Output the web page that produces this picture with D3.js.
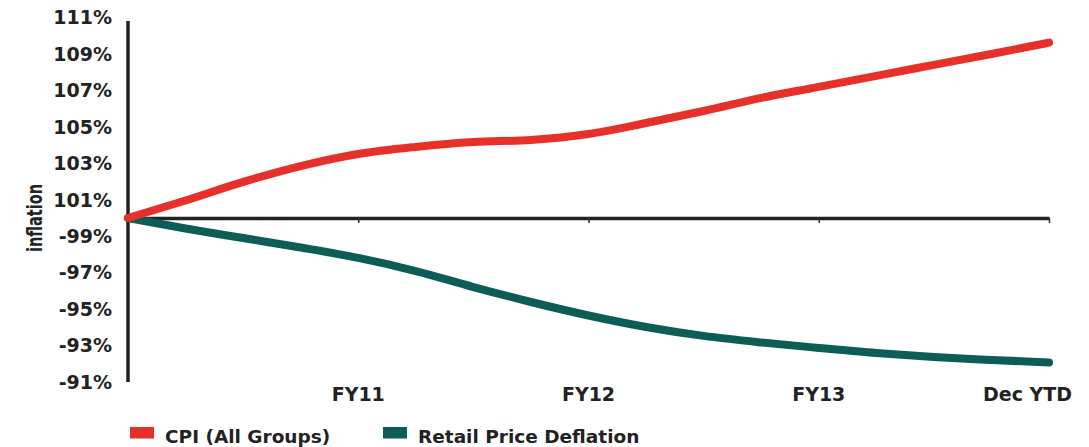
<!DOCTYPE html>
<html>
<head>
<meta charset="utf-8">
<script src="https://cdn.jsdelivr.net/npm/d3@7"></script>
<style>
  html, body { margin: 0; padding: 0; background: #ffffff; }
  svg { display: block; }
  text { font-family: "DejaVu Sans", "Liberation Sans", sans-serif; font-weight: bold; fill: #222222; }
</style>
</head>
<body>
<svg id="chart" width="1089" height="447"></svg>
<script>
// Quarterly index steps (0 = base period); labelled period ends every 4 quarters
const quarters = d3.range(0, 17);
const periodTicks = [4, 8, 12, 16];
const periodLabels = ["FY11", "FY12", "FY13", "Dec YTD"];

// Cumulative index values, base = 100
const cpiAllGroups = [100, 100.96, 101.98, 102.85, 103.51, 103.90, 104.17, 104.28, 104.61,
                      105.21, 105.87, 106.59, 107.19, 107.80, 108.40, 109.00, 109.62];
const retailPriceDeflation = [100, 99.42, 98.90, 98.38, 97.81, 97.09, 96.21, 95.39, 94.65,
                              94.02, 93.53, 93.17, 92.87, 92.59, 92.37, 92.21, 92.07];

// Vertical tick values and their printed labels (deflation side shown with a minus sign)
const yTickValues = [111, 109, 107, 105, 103, 101, 99, 97, 95, 93, 91];
const yTickLabels = ["111%", "109%", "107%", "105%", "103%", "101%", "-99%", "-97%", "-95%", "-93%", "-91%"];

const seriesNames = ["CPI (All Groups)", "Retail Price Deflation"];
const seriesColors = ["#e8302a", "#0b5d56"];

const svg = d3.select("#chart");
const W = 1089, H = 447;

const x = d3.scaleLinear().domain([0, 16]).range([128, 1049]);
const y = d3.scaleLinear().domain([91, 111]).range([382, 17.5]);

// Vertical axis line
svg.append("line")
  .attr("x1", x(0)).attr("x2", x(0))
  .attr("y1", 21).attr("y2", y(91))
  .attr("stroke", "#222").attr("stroke-width", 3.5);

// Y tick labels
svg.append("g").selectAll("text")
  .data(yTickValues)
  .join("text")
  .attr("x", 112)
  .attr("y", d => y(d))
  .attr("dy", "0.36em")
  .attr("text-anchor", "end")
  .attr("font-size", 19)
  .text((d, i) => yTickLabels[i]);

// Y axis title (narrow, tall lettering)
svg.append("text")
  .attr("transform", `translate(41.5,${y(100)}) rotate(-90)`)
  .attr("text-anchor", "middle")
  .attr("font-size", 21)
  .attr("textLength", 68)
  .attr("lengthAdjust", "spacingAndGlyphs")
  .text("inflation");

// Horizontal base line (index 100) with tick marks at period ends
const xAxis = d3.axisBottom(x).tickValues(periodTicks).tickSize(5).tickFormat("").tickSizeOuter(0);
const gx = svg.append("g").attr("transform", `translate(0,${y(100)})`).call(xAxis);
gx.select(".domain").attr("stroke", "#222").attr("stroke-width", 3.5);
gx.selectAll(".tick line").attr("stroke", "#333").attr("stroke-width", 1.6);

// Period labels along the bottom
const lbl = svg.append("g").selectAll("text")
  .data(periodTicks)
  .join("text")
  .attr("x", d => x(d))
  .attr("y", 400.5)
  .attr("text-anchor", "middle")
  .attr("font-size", 19)
  .text((d, i) => periodLabels[i]);
// keep the last label inside the frame
lbl.each(function () {
  const w = this.getComputedTextLength();
  const cx = +this.getAttribute("x");
  const maxRight = W - 17;
  if (cx + w / 2 > maxRight) this.setAttribute("x", maxRight - w / 2);
});

// Series lines
const line = d3.line()
  .x((d, i) => x(quarters[i]))
  .y(d => y(d))
  .curve(d3.curveMonotoneX);

const seriesData = [cpiAllGroups, retailPriceDeflation];
// draw deflation first so CPI sits on top at the shared origin
[1, 0].forEach(k => {
  svg.append("path")
    .datum(seriesData[k])
    .attr("d", line)
    .attr("fill", "none")
    .attr("stroke", seriesColors[k])
    .attr("stroke-width", 8)
    .attr("stroke-linecap", "round")
    .attr("stroke-linejoin", "round");
});

// Legend
const legendX = [130, 383];
const leg = svg.append("g").selectAll("g")
  .data(seriesNames)
  .join("g")
  .attr("transform", (d, i) => `translate(${legendX[i]},427)`);
leg.append("rect")
  .attr("width", 24).attr("height", 11.5)
  .attr("fill", (d, i) => seriesColors[i]);
leg.append("text")
  .attr("x", 35)
  .attr("y", 15.5)
  .attr("font-size", 18.5)
  .text(d => d);
</script>
</body>
</html>
